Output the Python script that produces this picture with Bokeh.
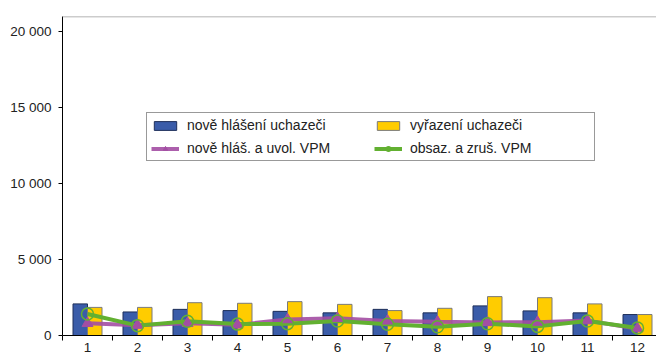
from bokeh.plotting import figure
from bokeh.models import Legend, LegendItem, FixedTicker, Span, ColumnDataSource
from bokeh.transform import dodge
from bokeh.embed import file_html
from bokeh.resources import INLINE

# ---- data ----
months = [1, 2, 3, 4, 5, 6, 7, 8, 9, 10, 11, 12]
new_applicants = [2080, 1550, 1720, 1640, 1590, 1490, 1720, 1490, 1950, 1620, 1490, 1380]
removed_applicants = [1850, 1850, 2160, 2120, 2230, 2050, 1640, 1790, 2560, 2490, 2080, 1380]
new_vpm = [800, 680, 800, 700, 1050, 1130, 960, 900, 860, 880, 980, 450]
filled_vpm = [1420, 650, 940, 750, 780, 950, 740, 580, 770, 600, 960, 500]
series_names = ["nově hlášení uchazeči", "vyřazení uchazeči",
                "nově hláš. a uvol. VPM", "obsaz. a zruš. VPM"]
y_ticks = [0, 5000, 10000, 15000, 20000]
y_tick_labels = ["0", "5 000", "10 000", "15 000", "20 000"]
x_minor = [m - 0.5 for m in months]

src = ColumnDataSource(dict(x=months, a=new_applicants, b=removed_applicants,
                            c=new_vpm, d=filled_vpm))

FONT = "Liberation Sans"
BLUE = "#3a5ca9"
YELLOW = "#ffcc00"
PURPLE = "#a34ea3"
GREEN = "#62b031"

p = figure(width=656, height=354, x_range=(0.5, 12.38), y_range=(0, 21000),
           output_backend="svg", toolbar_location=None,
           min_border_left=62, min_border_right=0, min_border_top=16, min_border_bottom=0)
p.outline_line_color = None
p.xgrid.visible = False
p.ygrid.visible = False
p.background_fill_color = "white"
p.border_fill_color = "white"

top_line = Span(location=p.y_range.end, dimension="width", line_color="#9a9a9a", line_width=1.5)
p.add_layout(top_line)

bw = 0.29
r_a = p.vbar(x=dodge("x", -bw / 2, range=p.x_range), top="a", width=bw, source=src,
             fill_color=BLUE, line_color="#1e2f5a", line_width=1)
r_b = p.vbar(x=dodge("x", bw / 2, range=p.x_range), top="b", width=bw, source=src,
             fill_color=YELLOW, line_color="#7a7a7a", line_width=1)

l_c = p.line("x", "c", source=src, line_color=PURPLE, line_width=4, line_alpha=0.9)
l_d = p.line("x", "d", source=src, line_color=GREEN, line_width=4)
m_c = p.scatter("x", "c", source=src, marker="triangle", size=11,
                fill_color=PURPLE, line_color=PURPLE)
m_d = p.scatter("x", "d", source=src, marker="circle", size=12,
                fill_color=None, line_color=GREEN, line_width=1.5)

# axes
xa = p.xaxis[0]
xa.ticker = FixedTicker(ticks=months, minor_ticks=x_minor)
xa.major_tick_out = 0
xa.major_tick_in = 0
xa.minor_tick_out = 5
xa.minor_tick_in = 0
xa.minor_tick_line_color = "black"
xa.axis_line_color = "black"
xa.major_label_standoff = 2
xa.axis_label_standoff = 0
xa.major_label_text_font = FONT
xa.major_label_text_font_size = "13.5px"
xa.major_label_text_color = "#222222"

ya = p.yaxis[0]
ya.ticker = FixedTicker(ticks=y_ticks, minor_ticks=[])
ya.major_label_overrides = {t: s for t, s in zip(y_ticks, y_tick_labels)}
ya.major_tick_out = 4
ya.major_tick_in = 0
ya.minor_tick_line_color = None
ya.axis_line_color = "black"
ya.major_label_standoff = 7
ya.major_label_text_font = FONT
ya.major_label_text_font_size = "13.5px"
ya.major_label_text_color = "#222222"

legend = Legend(items=[
    LegendItem(label=series_names[0], renderers=[r_a]),
    LegendItem(label=series_names[2], renderers=[l_c, m_c]),
    LegendItem(label=series_names[1], renderers=[r_b]),
    LegendItem(label=series_names[3], renderers=[l_d, m_d]),
], ncols=2, location=(84, 174))
legend.border_line_color = "#333333"
legend.border_line_width = 1
legend.background_fill_color = "white"
legend.background_fill_alpha = 1
legend.label_text_font = FONT
legend.label_text_font_size = "14px"
legend.label_text_color = "#222222"
legend.glyph_width = 28
legend.glyph_height = 11
legend.label_height = 8
legend.label_standoff = 8
legend.label_width = 180
legend.spacing = 7
legend.padding = 4
legend.margin = 0
p.add_layout(legend)

open("out.html", "w").write(file_html(p, INLINE))
